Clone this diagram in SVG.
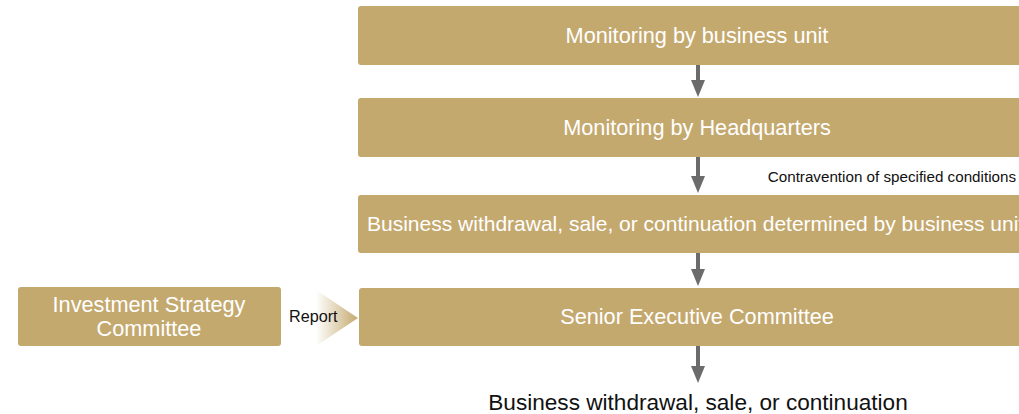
<svg xmlns="http://www.w3.org/2000/svg" width="1019" height="414" viewBox="0 0 1019 414">
<style>
.box{fill:#C4A96F}
.bt{font-family:"Liberation Sans",Arial,sans-serif;font-size:21.7px;fill:#ffffff;text-anchor:middle}
.bs{text-anchor:start;font-size:21px}
.lbl{font-family:"Liberation Sans",Arial,sans-serif;fill:#111111}
.shaft{stroke:#6b6b6b;stroke-width:4;fill:none}
.head{fill:#6b6b6b}
</style>
<defs>
<linearGradient id="rep" x1="0" y1="0" x2="1" y2="0">
<stop offset="0" stop-color="#ffffff"/>
<stop offset="1" stop-color="#C4A96F"/>
</linearGradient>
</defs>
<rect width="1019" height="414" fill="#ffffff"/>
<g id="n1"><rect class="box" x="358" y="6" width="700" height="59" rx="3"/><text class="bt" x="697" y="43">Monitoring by business unit</text></g>
<g id="n2"><rect class="box" x="358" y="98" width="700" height="59" rx="3"/><text class="bt" x="697" y="135">Monitoring by Headquarters</text></g>
<g id="n3"><rect class="box" x="358" y="195" width="700" height="58" rx="3"/><text class="bt bs" x="367" y="231">Business withdrawal, sale, or continuation determined by business unit</text></g>
<g id="n4"><rect class="box" x="359" y="288" width="700" height="58" rx="3"/><text class="bt" x="697" y="324">Senior Executive Committee</text></g>
<g id="n5"><rect class="box" x="18" y="287" width="263" height="59" rx="3"/><text class="bt" x="149" y="312">Investment Strategy</text><text class="bt" x="149" y="336">Committee</text></g>
<g id="n6"><text class="lbl" x="698" y="410" font-size="22.6" text-anchor="middle">Business withdrawal, sale, or continuation</text></g>
<g id="connectors">
<line class="shaft" x1="698" y1="65" x2="698" y2="82"/><polygon class="head" points="691,80 705,80 698,97"/>
<line class="shaft" x1="698" y1="157" x2="698" y2="178"/><polygon class="head" points="691,176 705,176 698,193"/>
<line class="shaft" x1="698" y1="253" x2="698" y2="271"/><polygon class="head" points="691,269 705,269 698,286"/>
<line class="shaft" x1="698" y1="346" x2="698" y2="368"/><polygon class="head" points="691,366 705,366 698,383"/>
<polygon points="316,290 358,318 316,346" fill="url(#rep)"/>
<text class="lbl" x="289" y="322" font-size="16.2">Report</text>
<text class="lbl" x="1016" y="182" font-size="15.2" text-anchor="end">Contravention of specified conditions</text>
</g>
</svg>
